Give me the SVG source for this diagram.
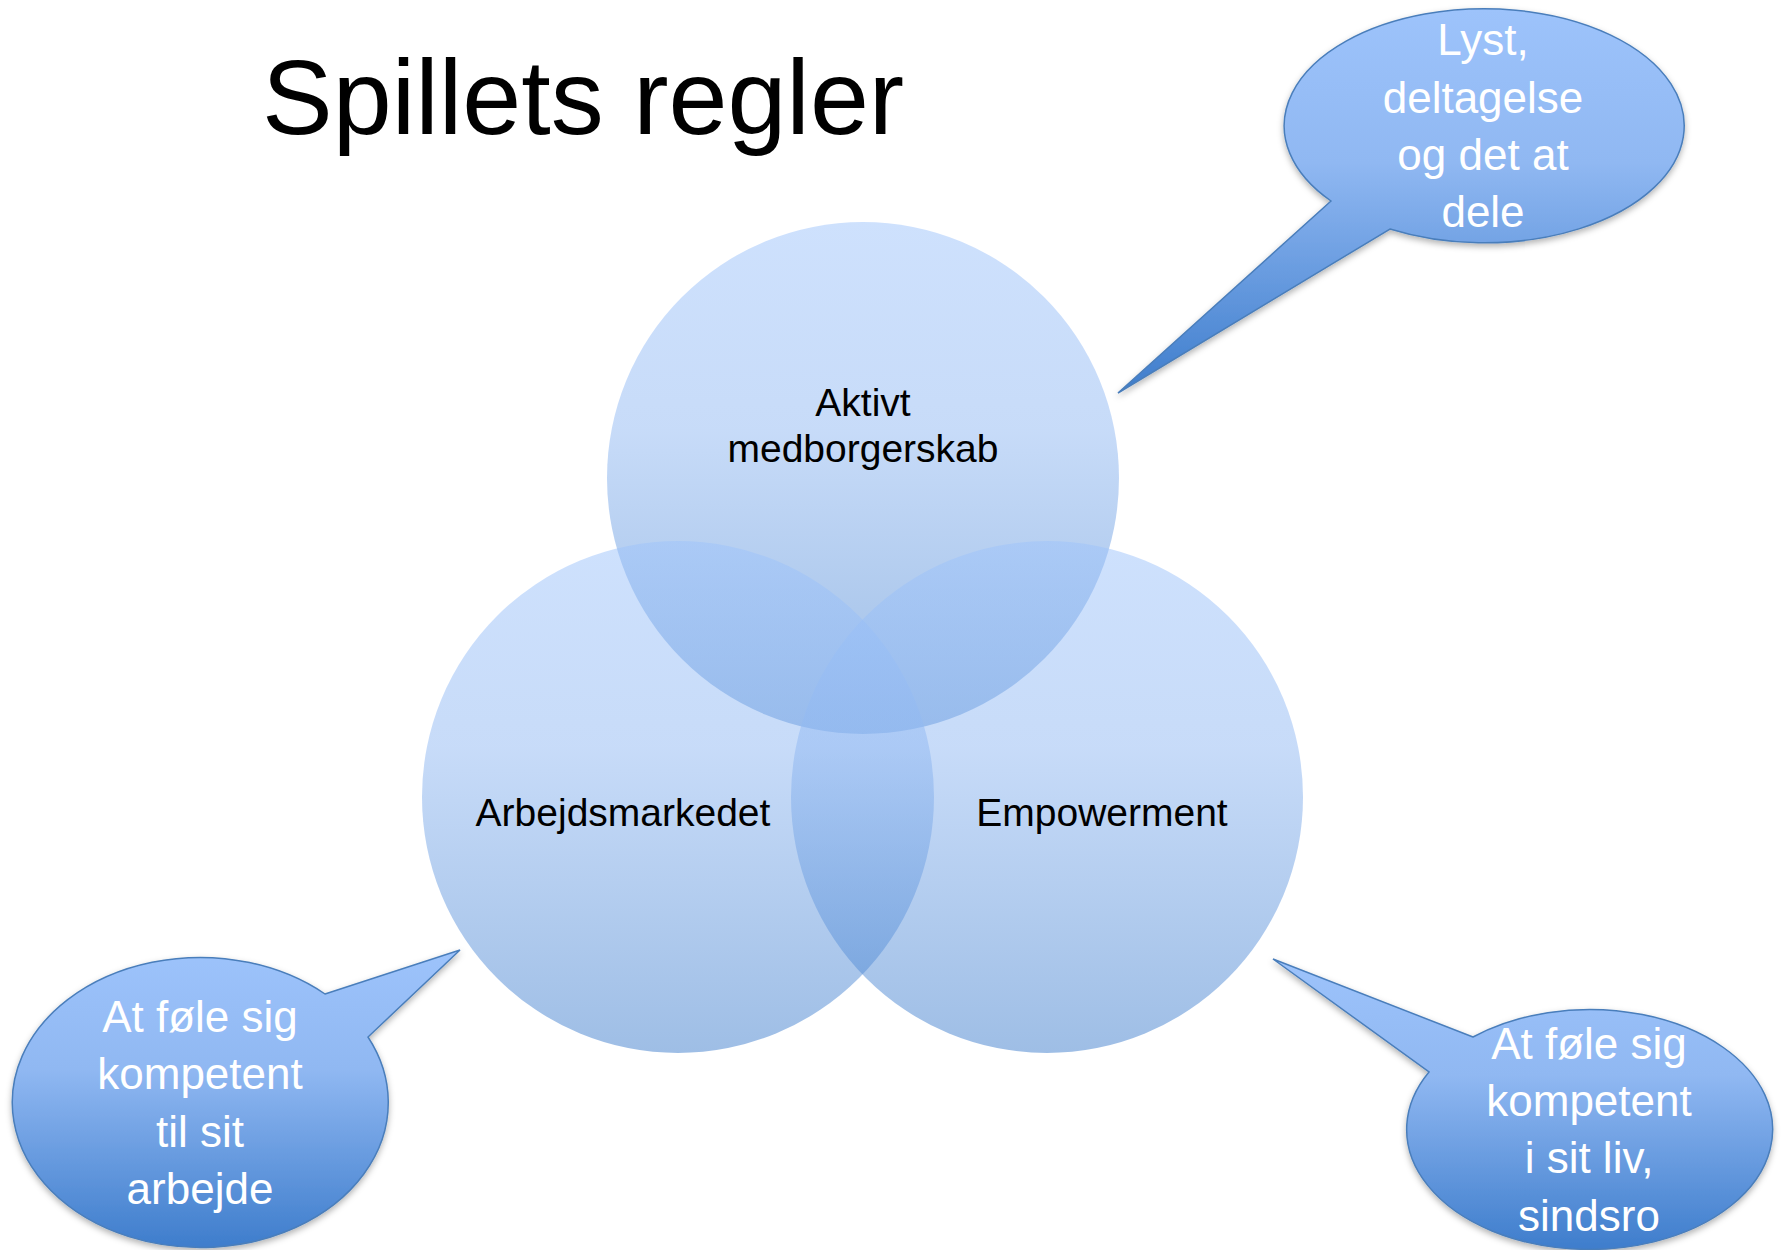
<svg xmlns="http://www.w3.org/2000/svg" width="1781" height="1250" viewBox="0 0 1781 1250">
<style>
.title{font-family:"Liberation Sans",Arial,sans-serif;font-size:106px;fill:#000}
.lbl{font-family:"Liberation Sans",Arial,sans-serif;font-size:39px;fill:#000;text-anchor:middle}
.ct{font-family:"Liberation Sans",Arial,sans-serif;font-size:44px;fill:#fff;text-anchor:middle}
.circle{fill:url(#g);fill-opacity:0.5}
.callout{fill:url(#g);stroke:#4a7ebb;stroke-width:1.5;filter:url(#sh)}
</style>
<defs>
<linearGradient id="g" x1="0" y1="0" x2="0" y2="1">
<stop offset="0" stop-color="#9dc3fb"/>
<stop offset="0.4" stop-color="#90b8f2"/>
<stop offset="1" stop-color="#3e7dcc"/>
</linearGradient>
<filter id="sh" x="-10%" y="-10%" width="120%" height="130%">
<feDropShadow dx="0" dy="3" stdDeviation="3" flood-color="#000" flood-opacity="0.3"/>
</filter>
</defs>
<rect width="1781" height="1250" fill="#fff"/>
<g id="title"><text class="title" x="262" y="134">Spillets regler</text></g>
<g id="circle-top"><circle class="circle" cx="863" cy="478" r="256"/><text class="lbl" x="863" y="416">Aktivt</text><text class="lbl" x="863" y="462">medborgerskab</text></g>
<g id="circle-left"><circle class="circle" cx="678" cy="797" r="256"/><text class="lbl" x="623" y="826">Arbejdsmarkedet</text></g>
<g id="circle-right"><circle class="circle" cx="1047" cy="797" r="256"/><text class="lbl" x="1102" y="826">Empowerment</text></g>
<g id="connectors"></g>
<g id="callout-top"><path class="callout" d="M 1331 201 L 1118 393 L 1390 229 A 200 117 0 1 0 1331 201 Z"/>
<text class="ct" x="1483" y="55">Lyst,</text><text class="ct" x="1483" y="113">deltagelse</text><text class="ct" x="1483" y="170">og det at</text><text class="ct" x="1483" y="227">dele</text></g>
<g id="callout-left"><path class="callout" d="M 325 994 L 460 950 L 368 1037 A 188 145 0 1 1 325 994 Z"/>
<text class="ct" x="200" y="1032">At føle sig</text><text class="ct" x="200" y="1089">kompetent</text><text class="ct" x="200" y="1147">til sit</text><text class="ct" x="200" y="1204">arbejde</text></g>
<g id="callout-right"><path class="callout" d="M 1473 1037 L 1273 959 L 1429 1072 A 183 120 0 1 0 1473 1037 Z"/>
<text class="ct" x="1589" y="1059">At føle sig</text><text class="ct" x="1589" y="1116">kompetent</text><text class="ct" x="1589" y="1173">i sit liv,</text><text class="ct" x="1589" y="1231">sindsro</text></g>
</svg>
